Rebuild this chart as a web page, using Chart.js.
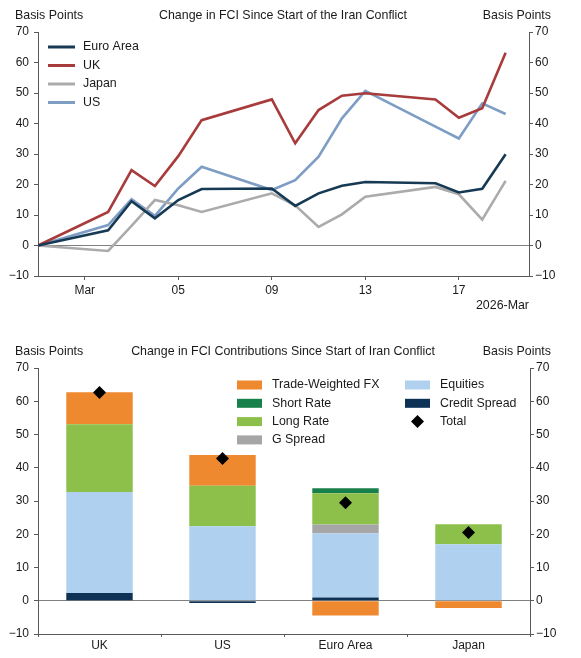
<!DOCTYPE html>
<html>
<head>
<meta charset="utf-8">
<script src="https://cdn.jsdelivr.net/npm/chart.js@4.4.1/dist/chart.umd.min.js"></script>
<style>
    body { margin: 0; background: #fff; }
    #wrap { position: relative; width: 581px; height: 658px; }
    canvas { position: absolute; left: 0; }
    #fciLines { top: 0; }
    #fciBars { top: 335px; }
</style>
</head>
<body>
<div id="wrap">
    <canvas id="fciLines" width="581" height="325"></canvas>
    <canvas id="fciBars" width="581" height="323"></canvas>
</div>
<script>
// --- Top panel: change in FCI (bp) since start of the conflict ---
const dates = ['2026-02-27', '2026-03-02', '2026-03-03', '2026-03-04', '2026-03-05', '2026-03-06',
    '2026-03-09', '2026-03-10', '2026-03-11', '2026-03-12', '2026-03-13', '2026-03-16',
    '2026-03-17', '2026-03-18', '2026-03-19'];
const euroArea = [0, 5.0, 14.5, 8.9, 14.9, 18.5, 18.7, 13.0, 17.1, 19.6, 20.8, 20.4, 17.4, 18.6, 29.9];
const uk = [0, 11.0, 24.7, 19.5, 29.3, 41.1, 47.9, 33.5, 44.4, 49.1, 49.9, 47.9, 41.9, 45.0, 63.2];
const japan = [0, -1.8, 6.4, 14.9, 13.2, 11.0, 17.1, 13.2, 6.1, 10.2, 16.0, 19.2, 16.8, 8.5, 21.2];
const us = [0, 6.7, 15.2, 9.7, 18.7, 25.8, 18.2, 21.4, 29.1, 41.7, 50.7, 39.0, 35.1, 46.6, 43.1];
const tickDates = ['2026-03-01', '2026-03-05', '2026-03-09', '2026-03-13', '2026-03-17'];
const tickLabels = ['Mar', '05', '09', '13', '17'];
const axisStart = '2026-02-27';
const axisEnd = '2026-03-20';

// --- Bottom panel: contributions (bp) ---
const countries = ['UK', 'US', 'Euro Area', 'Japan'];
const tradeWeightedFx = [9.6, 9.2, -4.4, -2.2];
const shortRate = [0, 0, 1.5, 0];
const longRate = [20.4, 12.2, 9.4, 6.0];
const gSpread = [0, 0, 2.6, 0];
const equities = [30.4, 22.4, 19.3, 17.0];
const creditSpread = [2.3, -0.7, 1.0, 0];
const total = [62.6, 42.8, 29.5, 20.5];

const FONT = 'Arial, "Liberation Sans", sans-serif';
const AXIS = '#595959';
const TEXT = '#1a1a1a';

Chart.defaults.font.family = FONT;
Chart.defaults.font.size = 12;
Chart.defaults.color = TEXT;

// day offset from 1 March, used as the x value of the line chart
function dayNum(s) {
    return Math.round((Date.parse(s + 'T00:00:00Z') - Date.parse('2026-03-01T00:00:00Z')) / 86400000);
}
const minus = v => String(v).replace('-', '\u2212');

// headers: left unit, centred title, right unit (+ optional footnote)
const headerText = {
    id: 'headerText',
    afterDraw(chart, args, opts) {
        const ctx = chart.ctx;
        ctx.save();
        ctx.font = '12.4px ' + FONT;
        ctx.fillStyle = TEXT;
        ctx.textBaseline = 'middle';
        ctx.textAlign = 'left';
        ctx.fillText(opts.left, 15, opts.y);
        ctx.textAlign = 'center';
        ctx.fillText(opts.title, opts.titleX, opts.y);
        ctx.textAlign = 'right';
        ctx.fillText(opts.right, 551, opts.y);
        if (opts.note) ctx.fillText(opts.note, chart.chartArea.right, opts.noteY);
        ctx.restore();
    }
};

// legend drawn inside the plot, in columns
const boxLegend = {
    id: 'boxLegend',
    afterDraw(chart, args, opts) {
        const ctx = chart.ctx;
        ctx.save();
        ctx.font = '12.4px ' + FONT;
        ctx.textBaseline = 'middle';
        opts.columns.forEach(col => {
            col.labels.forEach((label, i) => {
                const ds = chart.data.datasets.find(d => d.label === label);
                const y = opts.y + i * opts.step;
                if (ds.type === 'line' && ds.pointStyle === 'rectRot') {
                    const cx = col.x + 12.5;
                    ctx.fillStyle = ds.backgroundColor;
                    ctx.beginPath();
                    ctx.moveTo(cx, y - 6.5); ctx.lineTo(cx + 6.5, y);
                    ctx.lineTo(cx, y + 6.5); ctx.lineTo(cx - 6.5, y);
                    ctx.closePath(); ctx.fill();
                } else if (opts.lines) {
                    ctx.strokeStyle = ds.borderColor;
                    ctx.lineWidth = 3;
                    ctx.beginPath();
                    ctx.moveTo(col.x, y); ctx.lineTo(col.x + 27, y);
                    ctx.stroke();
                } else {
                    ctx.fillStyle = ds.backgroundColor;
                    ctx.fillRect(col.x, y - 4.5, 25, 9);
                }
                ctx.fillStyle = TEXT;
                ctx.fillText(label, col.x + col.gap, y);
            });
        });
        ctx.restore();
    }
};

function yAxis(position, width, padding) {
    return {
        position: position,
        min: -10, max: 70,
        afterFit: s => { s.width = width; },
        ticks: { stepSize: 10, padding: padding, callback: v => minus(v), color: TEXT },
        border: { display: true, color: AXIS },
        grid: {
            drawOnChartArea: position === 'left',
            color: c => (c.tick && c.tick.value === 0 ? '#808080' : 'rgba(0,0,0,0)'),
            tickColor: AXIS,
            tickLength: 4
        }
    };
}

function lineSet(label, values, color) {
    return {
        label: label,
        data: values.map((v, i) => ({ x: dayNum(dates[i]), y: v })),
        borderColor: color,
        backgroundColor: color,
        borderWidth: 2.6,
        pointRadius: 0,
        tension: 0
    };
}

new Chart(document.getElementById('fciLines'), {
    type: 'line',
    data: {
        datasets: [
            lineSet('Euro Area', euroArea, '#173a54'),
            lineSet('UK', uk, '#a83b3c'),
            lineSet('Japan', japan, '#ababab'),
            lineSet('US', us, '#7d9dc4')
        ]
    },
    options: {
        responsive: false,
        animation: false,
        layout: { padding: { top: 32 } },
        scales: {
            x: {
                type: 'linear',
                min: dayNum(axisStart),
                max: dayNum(axisEnd),
                afterFit: s => { s.height = 49; },
                afterBuildTicks: s => { s.ticks = tickDates.map(d => ({ value: dayNum(d) })); },
                ticks: {
                    padding: 3,
                    maxRotation: 0,
                    callback: v => tickLabels[tickDates.map(dayNum).indexOf(v)],
                    color: TEXT
                },
                border: { display: true, color: AXIS },
                grid: { drawOnChartArea: false, tickColor: AXIS, tickLength: 4 }
            },
            y: yAxis('left', 38, 5),
            y2: yAxis('right', 52, 2)
        },
        plugins: {
            legend: { display: false },
            tooltip: { enabled: false },
            headerText: {
                left: 'Basis Points', right: 'Basis Points',
                title: 'Change in FCI Since Start of the Iran Conflict',
                titleX: 283, y: 16, note: '2026-Mar', noteY: 306
            },
            boxLegend: {
                lines: true, y: 47, step: 18.5,
                columns: [{ x: 48, gap: 35, labels: ['Euro Area', 'UK', 'Japan', 'US'] }]
            }
        }
    },
    plugins: [headerText, boxLegend]
});

function barSet(label, values, color) {
    return { label: label, data: values, backgroundColor: color, order: 1,
        barPercentage: 0.54, categoryPercentage: 1 };
}

new Chart(document.getElementById('fciBars'), {
    type: 'bar',
    data: {
        labels: countries,
        datasets: [
            {
                type: 'line', label: 'Total', data: total, order: 0, stack: 'total',
                showLine: false, pointStyle: 'rectRot', pointRadius: 6.5,
                backgroundColor: '#000', borderColor: '#000', borderWidth: 0
            },
            barSet('Credit Spread', creditSpread, '#0d3256'),
            barSet('Equities', equities, '#afd1ef'),
            barSet('G Spread', gSpread, '#a6a6a6'),
            barSet('Long Rate', longRate, '#8cc04a'),
            barSet('Short Rate', shortRate, '#17804b'),
            barSet('Trade-Weighted FX', tradeWeightedFx, '#ef8930')
        ]
    },
    options: {
        responsive: false,
        animation: false,
        layout: { padding: { top: 33 } },
        scales: {
            x: {
                stacked: true,
                afterFit: s => { s.height = 24; },
                ticks: { padding: 1, color: TEXT },
                border: { display: true, color: AXIS },
                grid: { offset: true, drawOnChartArea: false, tickColor: AXIS, tickLength: 3 }
            },
            y: Object.assign(yAxis('left', 38, 5), { stacked: true }),
            y2: yAxis('right', 51, 2)
        },
        plugins: {
            legend: { display: false },
            tooltip: { enabled: false },
            headerText: {
                left: 'Basis Points', right: 'Basis Points',
                title: 'Change in FCI Contributions Since Start of Iran Conflict',
                titleX: 283, y: 17
            },
            boxLegend: {
                y: 50, step: 18.3,
                columns: [
                    { x: 237, gap: 35, labels: ['Trade-Weighted FX', 'Short Rate', 'Long Rate', 'G Spread'] },
                    { x: 405, gap: 35, labels: ['Equities', 'Credit Spread', 'Total'] }
                ]
            }
        }
    },
    plugins: [headerText, boxLegend]
});
</script>
</body>
</html>
